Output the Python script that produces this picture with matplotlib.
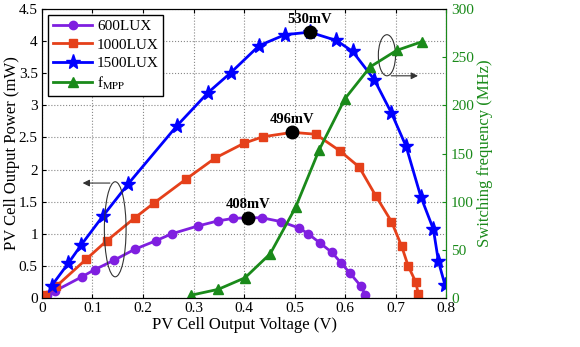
import matplotlib
matplotlib.use("Agg")
import matplotlib.pyplot as plt
from matplotlib.patches import Ellipse

plt.rcParams['font.family'] = ['Liberation Serif', 'DejaVu Serif']
plt.rcParams['mathtext.fontset'] = 'stix'

# PV cell output power (mW) vs voltage (V)
v600 = [0.009, 0.026, 0.079, 0.104, 0.143, 0.184, 0.225, 0.257, 0.308, 0.348, 0.379, 0.408,
        0.435, 0.473, 0.509, 0.527, 0.550, 0.574, 0.593, 0.610, 0.632, 0.640]
p600 = [0.05, 0.11, 0.33, 0.44, 0.59, 0.76, 0.89, 1.00, 1.12, 1.20, 1.24, 1.25,
        1.25, 1.19, 1.09, 1.00, 0.86, 0.71, 0.54, 0.385, 0.18, 0.05]

v1000 = [0.006, 0.028, 0.087, 0.128, 0.184, 0.222, 0.285, 0.343, 0.400, 0.437, 0.496,
         0.542, 0.590, 0.628, 0.661, 0.692, 0.712, 0.725, 0.740, 0.745]
p1000 = [0.05, 0.18, 0.60, 0.89, 1.25, 1.48, 1.85, 2.18, 2.41, 2.51, 2.58,
         2.55, 2.29, 2.04, 1.59, 1.19, 0.81, 0.50, 0.25, 0.07]

v1500 = [0.019, 0.052, 0.078, 0.120, 0.171, 0.267, 0.329, 0.374, 0.430, 0.481, 0.530,
         0.583, 0.615, 0.658, 0.692, 0.721, 0.750, 0.775, 0.785, 0.798]
p1500 = [0.19, 0.54, 0.83, 1.27, 1.78, 2.68, 3.20, 3.51, 3.93, 4.10, 4.14,
         4.01, 3.84, 3.40, 2.88, 2.36, 1.58, 1.07, 0.57, 0.20]

# switching frequency at MPP (MHz)
v_f = [0.296, 0.349, 0.402, 0.452, 0.502, 0.549, 0.600, 0.650, 0.702, 0.752]
f_mpp = [3, 9, 21, 46, 94, 154, 207, 240, 257, 266]

# maximum power points
mpp_v = [0.408, 0.496, 0.530]
mpp_p = [1.25, 2.58, 4.14]
mpp_lbl = ['408mV', '496mV', '530mV']

purple = '#7f1fe0'
orange = '#e5401a'
blue = '#0000ff'
green = '#1a8a1a'

fig = plt.figure(figsize=(5.8, 3.47), dpi=100)
ax = fig.add_axes([0.0724, 0.1412, 0.6966, 0.8328])
ax2 = ax.twinx()

l1, = ax.plot(v600, p600, '-o', color=purple, lw=2, ms=6, label='600LUX')
l2, = ax.plot(v1000, p1000, '-s', color=orange, lw=2, ms=5.5, label='1000LUX')
l3, = ax.plot(v1500, p1500, '-*', color=blue, lw=2, ms=11, label='1500LUX')
l4, = ax2.plot(v_f, f_mpp, '-^', color=green, lw=2, ms=7, label='f$_{\\rm MPP}$')

ax.plot(mpp_v, mpp_p, 'o', color='black', ms=9, zorder=5)
for vx, py, t in zip(mpp_v, mpp_p, mpp_lbl):
    ax.text(vx, py + 0.1, t, ha='center', va='bottom', fontsize=10.5, fontweight='bold')

# ellipses with arrows pointing to the axis they belong to
ax.add_patch(Ellipse((0.145, 1.07), 0.043, 1.48, fill=False, ec='#333333', lw=0.8, zorder=6))
ax.annotate('', xy=(0.075, 1.79), xytext=(0.140, 1.79),
            arrowprops=dict(arrowstyle='-|>', color='#333333', lw=0.8))
ax.add_patch(Ellipse((0.683, 3.78), 0.034, 0.64, fill=False, ec='#333333', lw=0.8, zorder=6))
ax.annotate('', xy=(0.750, 3.46), xytext=(0.686, 3.46),
            arrowprops=dict(arrowstyle='-|>', color='#333333', lw=0.8))

ax.set_xlim(0, 0.8)
ax.set_ylim(0, 4.5)
ax.set_xticks([0, 0.1, 0.2, 0.3, 0.4, 0.5, 0.6, 0.7, 0.8])
ax.set_xticklabels(['0', '0.1', '0.2', '0.3', '0.4', '0.5', '0.6', '0.7', '0.8'])
ax.set_yticks([0, 0.5, 1, 1.5, 2, 2.5, 3, 3.5, 4, 4.5])
ax.set_yticklabels(['0', '0.5', '1', '1.5', '2', '2.5', '3', '3.5', '4', '4.5'])
ax.grid(True, linestyle=':', color='#888888', lw=0.8)
ax.tick_params(direction='in', top=True, labelsize=11, length=3, pad=3)
ax.set_xlabel('PV Cell Output Voltage (V)', fontsize=12, labelpad=1)
ax.set_ylabel('PV Cell Output Power (mW)', fontsize=12, labelpad=-1)

ax2.set_ylim(0, 300)
ax2.set_yticks([0, 50, 100, 150, 200, 250, 300])
ax2.tick_params(direction='in', colors=green, labelsize=11, length=3)
ax2.spines['right'].set_color(green)
ax2.set_ylabel('Switching frequency (MHz)', color=green, fontsize=12, labelpad=2)

leg = ax.legend(handles=[l1, l2, l3, l4], loc='upper left', fontsize=11,
                fancybox=False, edgecolor='black', framealpha=1, handlelength=2.6,
                borderaxespad=0.4, labelspacing=0.3, handletextpad=0.3, borderpad=0.3)
leg.get_frame().set_linewidth(1)

fig.savefig('out.png', dpi=100)
